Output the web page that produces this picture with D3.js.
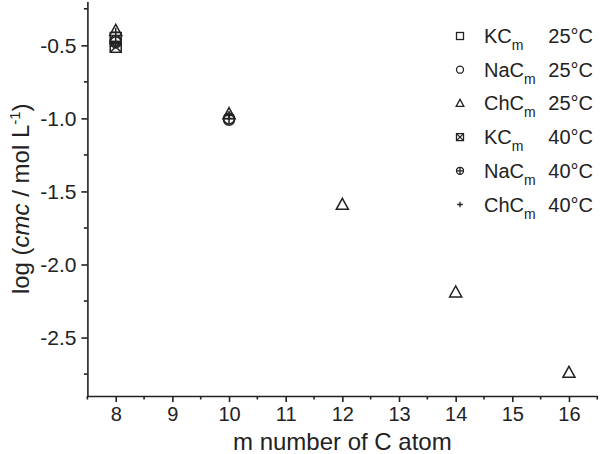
<!DOCTYPE html>
<html><head><meta charset="utf-8">
<script src="https://cdn.jsdelivr.net/npm/d3@7"></script>
<style>
body{margin:0;background:#fff;}
text{font-family:"Liberation Sans",Arial,sans-serif;fill:#222;}
</style></head>
<body><svg id="c" width="600" height="454"></svg>
<script>
// Data
const mKC = [8];
const KC25 = [-0.45];
const KC40 = [-0.51];
const mNaC = [8, 10];
const NaC25 = [-0.47, -1.01];
const NaC40 = [-0.48, -1.00];
const mChC25 = [8, 10, 12, 14, 16];
const ChC25 = [-0.40, -0.97, -1.59, -2.19, -2.74];
const mChC40 = [8, 10];
const ChC40 = [-0.41, -0.98];
const xTicks = [8, 9, 10, 11, 12, 13, 14, 15, 16];
const yTicks = [-0.5, -1.0, -1.5, -2.0, -2.5];
const legendNames = ["KC", "NaC", "ChC", "KC", "NaC", "ChC"];
const legendTemps = ["25°C", "25°C", "25°C", "40°C", "40°C", "40°C"];

const series = [
  {m: mKC, v: KC25, sym: "square"},
  {m: mNaC, v: NaC25, sym: "circle"},
  {m: mChC25, v: ChC25, sym: "triangle"},
  {m: mKC, v: KC40, sym: "xsquare"},
  {m: mNaC, v: NaC40, sym: "pcircle"},
  {m: mChC40, v: ChC40, sym: "plus"}
];

const svg = d3.select("#c");
const x = d3.scaleLinear().domain([7.5, 16.5]).range([87.4, 597.3]);
const y = d3.scaleLinear().domain([-2.9, -0.2]).range([396, 1.5]);
const ink = "#222";

function drawSym(g, type, s, sw) {
  const h = s / 2;
  const st = {fill: "none", stroke: ink, "stroke-width": sw};
  const ap = (el) => { for (const k in st) el.attr(k, st[k]); return el; };
  if (type === "square") ap(g.append("rect").attr("x", -h).attr("y", -h).attr("width", s).attr("height", s));
  if (type === "circle") ap(g.append("circle").attr("r", h));
  if (type === "triangle") ap(g.append("path").attr("d", `M0,${-h*1.15}L${h*1.1},${h*0.85}L${-h*1.1},${h*0.85}Z`));
  if (type === "xsquare") {
    ap(g.append("rect").attr("x", -h).attr("y", -h).attr("width", s).attr("height", s));
    ap(g.append("path").attr("d", `M${-h},${-h}L${h},${h}M${h},${-h}L${-h},${h}`));
  }
  if (type === "pcircle") {
    ap(g.append("circle").attr("r", h));
    ap(g.append("path").attr("d", `M${-h},0L${h},0M0,${-h}L0,${h}`));
  }
  if (type === "plus") ap(g.append("path").attr("d", `M${-h*0.8},0L${h*0.8},0M0,${-h*0.8}L0,${h*0.8}`));
}

// Axes
const xAxis = d3.axisBottom(x).tickValues(xTicks).tickFormat(d3.format("d")).tickSize(6).tickSizeOuter(0).tickPadding(5);
const yAxis = d3.axisLeft(y).tickValues(yTicks).tickFormat(d3.format(".1f")).tickSize(6).tickSizeOuter(0).tickPadding(5);

const gx = svg.append("g").attr("transform", `translate(0,${y(-2.9)})`).call(xAxis);
const gy = svg.append("g").attr("transform", `translate(${x(7.5)},0)`).call(yAxis);
[gx, gy].forEach(g => {
  g.select(".domain").attr("stroke", ink).attr("stroke-width", 1.6);
  g.selectAll(".tick line").attr("stroke", ink).attr("stroke-width", 1.6);
  g.selectAll(".tick text").attr("font-size", 21).attr("fill", ink).style("font-family", '"Liberation Sans",Arial,sans-serif');
});
gx.selectAll(".tick text").attr("font-size", 20);
gy.selectAll(".tick text").text(d => d3.format(".1f")(d).replace("−", "-"));

// minor ticks
const xMinor = d3.range(7.5, 16.6, 1);
const yMinor = [-0.25, -0.75, -1.25, -1.75, -2.25, -2.75];
svg.append("g").selectAll("line").data(xMinor).join("line")
  .attr("x1", d => x(d)).attr("x2", d => x(d)).attr("y1", y(-2.9)).attr("y2", y(-2.9) + 3.5)
  .attr("stroke", ink).attr("stroke-width", 1.6);
svg.append("g").selectAll("line").data(yMinor).join("line")
  .attr("x1", x(7.5)).attr("x2", x(7.5) - 3.5).attr("y1", d => y(d)).attr("y2", d => y(d))
  .attr("stroke", ink).attr("stroke-width", 1.6);

// axis titles
svg.append("text").attr("x", (x(7.5) + x(16.5)) / 2).attr("y", 450).attr("text-anchor", "middle")
  .attr("font-size", 24).text("m number of C atom");
const yt = svg.append("text").attr("transform", `translate(29,${(y(-0.2) + y(-2.9)) / 2}) rotate(-90)`)
  .attr("text-anchor", "middle").attr("font-size", 24);
yt.append("tspan").text("log (");
yt.append("tspan").attr("font-style", "italic").text("cmc");
yt.append("tspan").text(" / mol L");
yt.append("tspan").attr("font-size", 15).attr("dy", -9).text("-1");
yt.append("tspan").attr("dy", 9).text(")");

// points
series.forEach(s => {
  const g = svg.append("g");
  s.m.forEach((m, i) => {
    const p = g.append("g").attr("transform", `translate(${x(m)},${y(s.v[i])})`);
    drawSym(p, s.sym, 11, 1.5);
  });
});

// legend
const lg = svg.append("g");
series.forEach((s, i) => {
  const cy = 36 + i * 33.7;
  const p = lg.append("g").attr("transform", `translate(460,${cy})`);
  drawSym(p, s.sym, 7, 1.3);
  const t = lg.append("text").attr("x", 484).attr("y", cy + 7).attr("font-size", 20);
  t.append("tspan").text(legendNames[i]);
  t.append("tspan").attr("font-size", 14).attr("dy", 7).text("m");
  lg.append("text").attr("x", 593).attr("y", cy + 7).attr("text-anchor", "end").attr("font-size", 20).text(legendTemps[i]);
});
</script></body></html>
